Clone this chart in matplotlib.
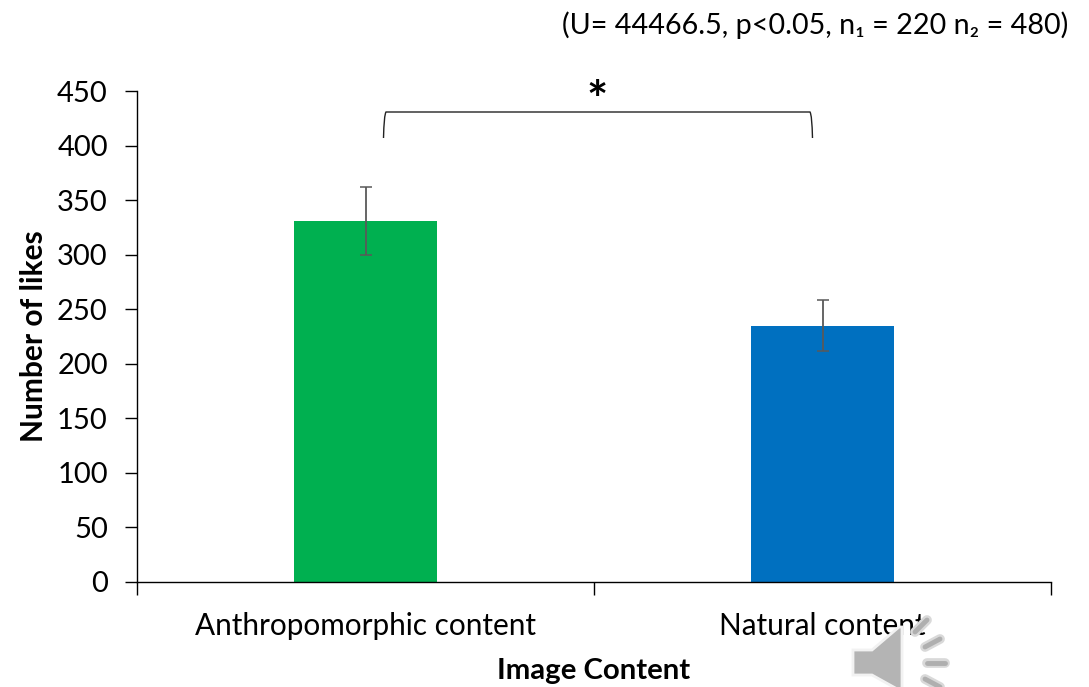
import matplotlib
matplotlib.use("Agg")
import matplotlib.pyplot as plt
from matplotlib.patches import Polygon, PathPatch
from matplotlib.path import Path

categories = ["Anthropomorphic content", "Natural content"]
values = [331, 235]
errors = [31, 23]
colors = ["#00B050", "#0070C0"]
yticks = list(range(0, 451, 50))

plt.rcParams['font.family'] = ['Lato', 'DejaVu Sans']
W, H = 1089, 687
fig = plt.figure(figsize=(W/100, H/100), dpi=100)
ax = fig.add_axes([137/W, 1-582/H, (1051-137)/W, (582-91)/H])
ax.bar([0, 1], values, width=0.315, color=colors, yerr=errors,
       error_kw=dict(ecolor="#595959", elinewidth=1.3, capsize=4.5, capthick=1.1))
ax.set_xlim(-0.5, 1.5)
ax.set_ylim(0, 450)
ax.set_yticks(yticks)
ax.set_xticks([-0.5, 0.5, 1.5])
ax.set_xticklabels([])
for s in ("top", "right"):
    ax.spines[s].set_visible(False)
for s in ("left", "bottom"):
    ax.spines[s].set_linewidth(1.0)
ax.tick_params(axis="y", labelsize=21, length=9, width=1, direction="out", pad=12)
ax.tick_params(axis="x", length=9, width=1, direction="out")
for i, c in enumerate(categories):
    ax.text(i, -40, c, ha="center", va="center", fontsize=21.4)

fig.text(594/W, 1-671/H, "Image Content", ha="center", va="center", fontsize=21.2, fontweight="bold")
fig.text(34/W, 1-336/H, "Number of likes", ha="center", va="center", rotation=90, fontsize=21.5, fontweight="bold")
fig.text(1068/W, 1-25/H, "(U= 44466.5, p<0.05, n\u2081 = 220 n\u2082 = 480)", ha="right", va="center", fontsize=20.7,
         family=['Lato', 'Noto Sans', 'DejaVu Sans'])
fig.text(597/W, 1-103/H, "*", ha="center", va="center", fontsize=36, fontweight="bold")

tr = fig.transFigure
def P(x, y): return (x/W, 1-y/H)

# bracket
verts = [P(383.5, 138), P(384, 115), P(386, 112), P(810, 112), P(812, 115), P(812.5, 138)]
codes = [Path.MOVETO, Path.CURVE3, Path.CURVE3, Path.LINETO, Path.CURVE3, Path.CURVE3]
fig.add_artist(PathPatch(Path(verts, codes), transform=tr, fill=False, ec="#222222", lw=1.0))

# speaker icon
spk = [P(853, 650), P(872, 650), P(899, 627), P(902, 627), P(902, 690), P(899, 690), P(872, 675), P(853, 675)]
fig.add_artist(Polygon(spk, closed=True, transform=tr, fc="#B4B4B4", ec="#F2F2F2", lw=2.0, zorder=5))
for a, b in [((915, 632), (927, 620)), ((925, 647), (940, 639)), ((927, 663), (945, 663)), ((925, 679), (940, 687))]:
    x = [a[0]/W, b[0]/W]; y = [1-a[1]/H, 1-b[1]/H]
    fig.add_artist(plt.Line2D(x, y, transform=tr, color="#D9D9D9", lw=7, solid_capstyle="round", zorder=5))
    fig.add_artist(plt.Line2D(x, y, transform=tr, color="#AFAFAF", lw=3.5, solid_capstyle="round", zorder=6))

fig.savefig("out.png", dpi=100)
